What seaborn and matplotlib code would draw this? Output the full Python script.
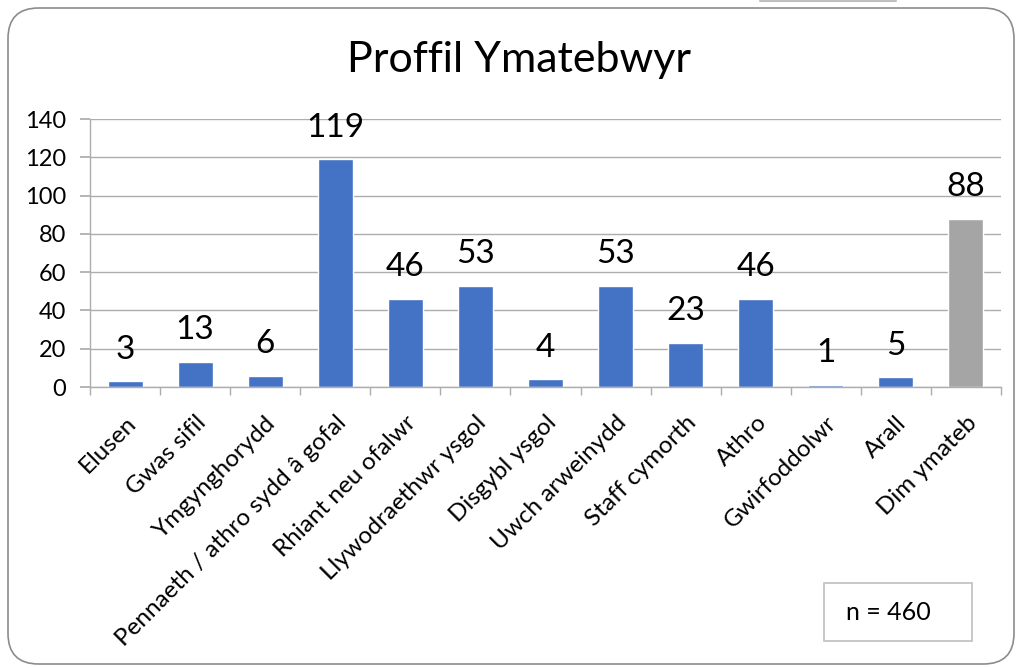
import matplotlib
matplotlib.use('Agg')
import matplotlib.pyplot as plt
from matplotlib.patches import FancyBboxPatch, Rectangle
from matplotlib.lines import Line2D
import numpy as np
import seaborn as sns

categories = ['Elusen', 'Gwas sifil', 'Ymgynghorydd', 'Pennaeth / athro sydd â gofal',
              'Rhiant neu ofalwr', 'Llywodraethwr ysgol', 'Disgybl ysgol', 'Uwch arweinydd',
              'Staff cymorth', 'Athro', 'Gwirfoddolwr', 'Arall', 'Dim ymateb']
counts = [3, 13, 6, 119, 46, 53, 4, 53, 23, 46, 1, 5, 88]
colors = ['#4472C4'] * 12 + ['#A5A5A5']
title = 'Proffil Ymatebwyr'
note = 'n = 460'

sns.set_theme(style='white')
plt.rcParams['font.family'] = ['Lato', 'DejaVu Sans']
plt.rcParams['text.color'] = 'black'
plt.rcParams['xtick.color'] = 'black'
plt.rcParams['ytick.color'] = 'black'

fig = plt.figure(figsize=(10.21, 6.68), dpi=100)
ax = fig.add_axes([90 / 1021, 1 - 387 / 668, 911 / 1021, 268 / 668])

sns.barplot(x=categories, y=counts, hue=categories, palette=colors, legend=False,
            width=0.5, saturation=1, ax=ax)

grid_col = '#ADADAD'
ax.set_ylim(0, 140)
ax.set_xlim(-0.5, len(categories) - 0.5)
ax.set_yticks(np.arange(0, 141, 20))
ax.yaxis.grid(True, color=grid_col, linewidth=1)
ax.set_axisbelow(True)
for s in ['top', 'right']:
    ax.spines[s].set_visible(False)
for s in ['left', 'bottom']:
    ax.spines[s].set_color(grid_col)
    ax.spines[s].set_linewidth(1)

ax.tick_params(axis='y', length=7, color=grid_col, labelcolor='black', labelsize=17, pad=10, left=True)
ax.tick_params(axis='x', which='major', length=0, pad=18)
ax.set_xticks(np.arange(-0.5, len(categories)), minor=True)
ax.tick_params(axis='x', which='minor', length=6, color=grid_col, bottom=True)
ax.set_xticks(range(len(categories)))
ax.set_xticklabels(categories, rotation=45, ha='right', rotation_mode='anchor',
                   fontsize=17.5, color='black')
ax.set_xlabel('')
ax.set_ylabel('')

for i, v in enumerate(counts):
    ax.annotate(str(v), (i, v), xytext=(0, 12), textcoords='offset points',
                ha='center', va='bottom', fontsize=24, color='black')

fig.text(519 / 1021, 1 - 60 / 668, title, ha='center', va='center', fontsize=31)

# n box
fig.patches.append(Rectangle((824 / 1021, 1 - 641 / 668), 148 / 1021, 58 / 668,
                             transform=fig.transFigure, facecolor='white',
                             edgecolor='#BFBFBF', linewidth=1.2))
fig.text(888 / 1021, 1 - 612 / 668, note, ha='center', va='center', fontsize=18)

# chart frame
fig.patches.append(FancyBboxPatch((8 / 1021, 4 / 668), 1006 / 1021, 656 / 668,
                                  boxstyle='round,pad=0,rounding_size=0.03',
                                  transform=fig.transFigure, facecolor='none',
                                  edgecolor='#8C8C8C', linewidth=1.2, mutation_aspect=1021 / 668))
fig.lines.append(Line2D([760 / 1021, 896 / 1021], [0.999, 0.999], transform=fig.transFigure,
                        color='#BFBFBF', linewidth=1.5))

fig.savefig('out.png', dpi=100)
